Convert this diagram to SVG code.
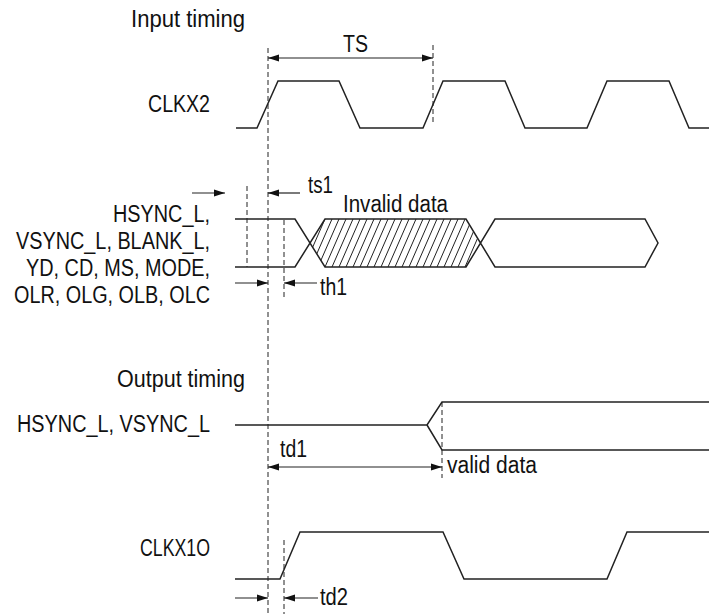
<svg xmlns="http://www.w3.org/2000/svg" width="709" height="614" viewBox="0 0 709 614">
<style>
  text { font-family: "Liberation Sans", Arial, sans-serif; font-size: 23px; fill: #111; }
  .end { text-anchor: end; }
  .wave { fill: none; stroke: #222; stroke-width: 1.5; stroke-linejoin: miter; }
  .dash { fill: none; stroke: #222; stroke-width: 1; stroke-dasharray: 5 3; }
  .arr { fill: none; stroke: #222; stroke-width: 1.2; }
  .hatch { stroke: #222; stroke-width: 1; }
</style>
<defs>
  <marker id="ah" markerUnits="userSpaceOnUse" markerWidth="11" markerHeight="8" refX="11" refY="4" orient="auto-start-reverse">
    <path d="M0,0.5 L11,4 L0,7.5 z" fill="#111"/>
  </marker>
  <clipPath id="hclip">
    <polygon points="310,243 325,219 466,219 480,243 466,267 325,267"/>
  </clipPath>
</defs>

<g id="titles">
  <text x="131" y="27" textLength="114" lengthAdjust="spacingAndGlyphs">Input timing</text>
  <text x="117" y="387" textLength="128" lengthAdjust="spacingAndGlyphs">Output timing</text>
</g>

<g id="clkx2">
  <text class="end" x="210" y="112" textLength="62" lengthAdjust="spacingAndGlyphs">CLKX2</text>
  <path class="wave" d="M236,128 H257 L278,81 H339 L360,128 H423 L443,81 H505 L525,128 H587 L607,81 H669 L689,128 H709"/>
</g>

<g id="input-data">
  <text class="end" x="210" y="222" textLength="97" lengthAdjust="spacingAndGlyphs">HSYNC_L,</text>
  <text class="end" x="210" y="249" textLength="194" lengthAdjust="spacingAndGlyphs">VSYNC_L, BLANK_L,</text>
  <text class="end" x="210" y="276" textLength="184" lengthAdjust="spacingAndGlyphs">YD, CD, MS, MODE,</text>
  <text class="end" x="210" y="303" textLength="196" lengthAdjust="spacingAndGlyphs">OLR, OLG, OLB, OLC</text>
  <g clip-path="url(#hclip)">
    <path class="hatch" d="M290,267 l21,-48 M297,267 l21,-48 M304,267 l21,-48 M311,267 l21,-48 M318,267 l21,-48 M325,267 l21,-48 M332,267 l21,-48 M339,267 l21,-48 M346,267 l21,-48 M353,267 l21,-48 M360,267 l21,-48 M367,267 l21,-48 M374,267 l21,-48 M381,267 l21,-48 M388,267 l21,-48 M395,267 l21,-48 M402,267 l21,-48 M409,267 l21,-48 M416,267 l21,-48 M423,267 l21,-48 M430,267 l21,-48 M437,267 l21,-48 M444,267 l21,-48 M451,267 l21,-48 M458,267 l21,-48 M465,267 l21,-48 M472,267 l21,-48"/>
  </g>
  <path class="wave" d="M235,219 H295 L325,267 H466 L495,219 H645 L658,243 L645,267 H495 L466,219 H325 L295,267 H235"/>
  <text x="343" y="212" textLength="105" lengthAdjust="spacingAndGlyphs">Invalid data</text>
</g>

<g id="output-sync">
  <text class="end" x="210" y="432" textLength="193" lengthAdjust="spacingAndGlyphs">HSYNC_L, VSYNC_L</text>
  <path class="wave" d="M235,425 H427 L442,402 H709 M427,425 L442,450 H709"/>
  <text x="447" y="473" textLength="90" lengthAdjust="spacingAndGlyphs">valid data</text>
</g>

<g id="clkx1o">
  <text class="end" x="210" y="556" textLength="70" lengthAdjust="spacingAndGlyphs">CLKX1O</text>
  <path class="wave" d="M235,579 H280 L300,532 H443 L464,579 H607 L627,532 H709"/>
</g>

<g id="guides">
  <line class="dash" x1="268" y1="48" x2="268" y2="614"/>
  <line class="dash" x1="433" y1="45" x2="433" y2="123"/>
  <line class="dash" x1="247" y1="186" x2="247" y2="267"/>
  <line class="dash" x1="284" y1="220" x2="284" y2="300"/>
  <line class="dash" x1="442" y1="402" x2="442" y2="478"/>
  <line class="dash" x1="284" y1="540" x2="284" y2="614"/>
</g>

<g id="connectors">
  <line class="arr" x1="268" y1="58" x2="433" y2="58" marker-start="url(#ah)" marker-end="url(#ah)"/>
  <line class="arr" x1="192" y1="193" x2="225" y2="193" marker-end="url(#ah)"/>
  <line class="arr" x1="300" y1="193" x2="268" y2="193" marker-end="url(#ah)"/>
  <line class="arr" x1="235" y1="283" x2="268" y2="283" marker-end="url(#ah)"/>
  <line class="arr" x1="317" y1="283" x2="284" y2="283" marker-end="url(#ah)"/>
  <line class="arr" x1="268" y1="467" x2="442" y2="467" marker-start="url(#ah)" marker-end="url(#ah)"/>
  <line class="arr" x1="235" y1="598" x2="268" y2="598" marker-end="url(#ah)"/>
  <line class="arr" x1="318" y1="598" x2="284" y2="598" marker-end="url(#ah)"/>
</g>

<g id="interval-labels">
  <text x="343" y="52" textLength="25" lengthAdjust="spacingAndGlyphs">TS</text>
  <text x="308" y="193" textLength="25" lengthAdjust="spacingAndGlyphs">ts1</text>
  <text x="320" y="295" textLength="27" lengthAdjust="spacingAndGlyphs">th1</text>
  <text x="280" y="457" textLength="27" lengthAdjust="spacingAndGlyphs">td1</text>
  <text x="320" y="605" textLength="28" lengthAdjust="spacingAndGlyphs">td2</text>
</g>
</svg>
